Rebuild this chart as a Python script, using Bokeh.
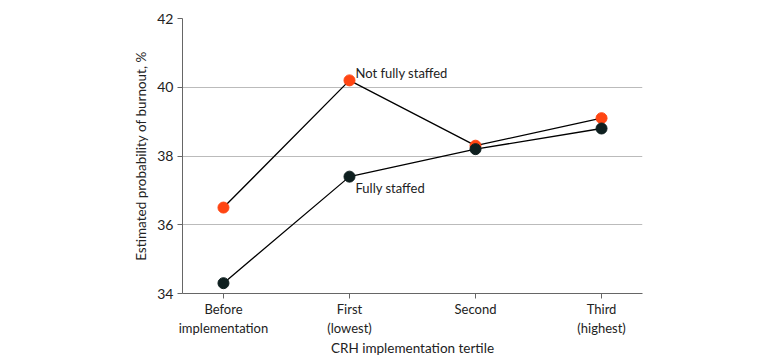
from bokeh.plotting import figure
from bokeh.models import Range1d, FixedTicker
from bokeh.core.properties import value
from bokeh.embed import file_html
from bokeh.resources import INLINE

categories = ["Before\nimplementation", "First\n(lowest)", "Second", "Third\n(highest)"]
not_fully = [36.5, 40.2, 38.3, 39.1]
fully = [34.3, 37.4, 38.2, 38.8]
series_names = ["Not fully staffed", "Fully staffed"]
y_ticks = [34, 36, 38, 40, 42]

FONT = "Lato"
ORANGE = "#FF4512"
DARK = "#0E1F1F"

xs = list(range(len(categories)))

p = figure(width=780, height=364, output_backend="svg", toolbar_location=None,
           x_range=Range1d(-0.325, 3.325), y_range=Range1d(34, 42),
           min_border_left=182, min_border_right=138, min_border_top=18, min_border_bottom=71)
p.outline_line_color = None
p.background_fill_color = "white"

p.line(xs, not_fully, line_color="black", line_width=1.3)
p.line(xs, fully, line_color="black", line_width=1.3)
p.scatter(xs, not_fully, size=11, fill_color=ORANGE, line_color=ORANGE)
p.scatter(xs, fully, size=11, fill_color=DARK, line_color=DARK)

p.text(x=[1], y=[not_fully[1]], text=[series_names[0]], x_offset=6, y_offset=-7,
       text_font=value(FONT), text_font_size="13px", text_baseline="middle",
       text_align="left", text_color="#222222")
p.text(x=[1], y=[fully[1]], text=[series_names[1]], x_offset=6, y_offset=11,
       text_font=value(FONT), text_font_size="13px", text_baseline="middle",
       text_align="left", text_color="#222222")

p.xaxis.ticker = FixedTicker(ticks=xs)
p.xaxis.major_label_overrides = {i: c for i, c in enumerate(categories)}
p.yaxis.ticker = FixedTicker(ticks=y_ticks)
p.xaxis.axis_label = "CRH implementation tertile"
p.yaxis.axis_label = "Estimated probability of burnout, %"

for ax in (p.xaxis[0], p.yaxis[0]):
    ax.axis_line_color = "#666666"
    ax.major_tick_line_color = "#666666"
    ax.major_tick_in = 0
    ax.major_tick_out = 5
    ax.minor_tick_line_color = None
    ax.major_label_text_font = FONT
    ax.major_label_text_font_size = "13px"
    ax.major_label_text_color = "#222222"
    ax.axis_label_text_font = FONT
    ax.axis_label_text_font_size = "13.5px"
    ax.axis_label_text_font_style = "normal"
    ax.axis_label_text_color = "#222222"

p.yaxis.major_label_text_font_size = "14px"
p.yaxis.major_label_standoff = 4
p.yaxis.axis_label_standoff = 5
p.xaxis.major_label_standoff = 2
p.xaxis.axis_label_standoff = 1

p.xgrid.grid_line_color = None
p.ygrid.grid_line_color = "#BBBBBB"
p.ygrid.ticker = FixedTicker(ticks=[36, 38, 40, 42])

open("out.html", "w").write(file_html(p, INLINE))
